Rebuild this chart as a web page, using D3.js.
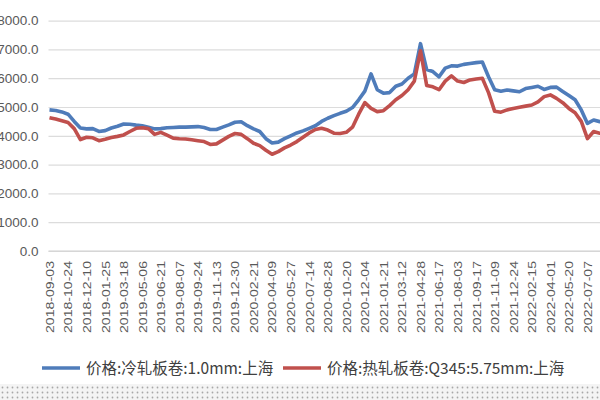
<!DOCTYPE html>
<html>
<head>
<meta charset="utf-8">
<script src="https://cdn.jsdelivr.net/npm/d3@7"></script>
<style>
  body { margin: 0; background: #fff; }
  svg { display: block; font-family: "Liberation Sans", Arial, "Noto Sans CJK SC", sans-serif; }
</style>
</head>
<body>
<svg id="chart" width="600" height="400"></svg>
<script>
// category labels on the x axis (every ~33 trading days)
const dates = [
  "2018-09-03", "2018-10-24", "2018-12-10", "2019-01-25", "2019-03-18", "2019-05-06",
  "2019-06-21", "2019-08-07", "2019-09-24", "2019-11-13", "2019-12-30", "2020-02-21",
  "2020-04-09", "2020-05-27", "2020-07-14", "2020-08-28", "2020-10-20", "2020-12-04",
  "2021-01-21", "2021-03-12", "2021-04-28", "2021-06-17", "2021-08-03", "2021-09-17",
  "2021-11-09", "2021-12-24", "2022-02-15", "2022-04-01", "2022-05-20", "2022-07-07",
  "2022-08-24"
];

// samples, 3 per label interval
const perLabel = 3;

const coldRolled = [
  4900, 4880, 4830, 4750, 4500, 4270, 4240, 4250, 4150, 4180,
  4270, 4330, 4410, 4400, 4370, 4350, 4300, 4240, 4250, 4280,
  4290, 4300, 4300, 4310, 4320, 4290, 4220, 4220, 4300, 4380,
  4470, 4490, 4350, 4240, 4150, 3900, 3750, 3780, 3900, 4000,
  4100, 4170, 4260, 4350, 4500, 4610, 4700, 4780, 4850, 4980,
  5250, 5550, 6150, 5600, 5480, 5500, 5720, 5800, 6000, 6150,
  7200, 6300, 6230, 6050, 6350, 6430, 6420, 6480, 6510, 6540,
  6560, 6050, 5600, 5550, 5590, 5560, 5530, 5640, 5680, 5720,
  5610, 5680, 5690, 5540, 5400, 5250, 4900, 4430, 4550, 4490,
  4480
];

const hotRolled = [
  4630, 4580, 4520, 4460, 4250, 3870, 3950, 3930, 3830, 3880,
  3940, 3980, 4030, 4150, 4260, 4280, 4250, 4050, 4120, 4020,
  3920, 3900, 3890, 3860, 3830, 3800, 3700, 3720, 3850, 3980,
  4080, 4050, 3900, 3740, 3660, 3500, 3360, 3450, 3580, 3680,
  3800, 3950, 4100, 4220, 4260, 4200, 4090, 4080, 4120, 4300,
  4750, 5150, 4950, 4840, 4870, 5050, 5250, 5400, 5600, 5900,
  6950, 5750, 5700, 5600, 5900, 6080, 5900, 5850, 5940, 5970,
  6000, 5500, 4850, 4820, 4900, 4950, 4990, 5030, 5070, 5180,
  5360, 5420, 5300, 5150, 4950, 4800, 4500, 3900, 4150, 4090,
  4100
];

const yTicks = [0, 1000, 2000, 3000, 4000, 5000, 6000, 7000, 8000];

const seriesNames = ["价格:冷轧板卷:1.0mm:上海", "价格:热轧板卷:Q345:5.75mm:上海"];
const seriesColors = ["#4f7cba", "#c0504d"];

const svg = d3.select("#chart");
const width = 600;
const plotLeft = 48.5;
const plotBottom = 251;
const plotTop = 20.6;

// the plot runs past the right edge of the picture, like the cropped original
const x = d3.scaleLinear()
  .domain([0, dates.length - 1])
  .range([plotLeft + 1, plotLeft + 1 + 18.55 * (dates.length - 1)]);

const y = d3.scaleLinear()
  .domain([0, 8000])
  .range([plotBottom, plotTop]);

// dotted strip along the bottom
const defs = svg.append("defs");
const pat = defs.append("pattern")
  .attr("id", "dots")
  .attr("width", 5)
  .attr("height", 5)
  .attr("patternUnits", "userSpaceOnUse");
pat.append("rect").attr("width", 5).attr("height", 5).attr("fill", "#f4f4f4");
pat.append("circle").attr("cx", 2.5).attr("cy", 2.5).attr("r", 0.9).attr("fill", "#a8a8a8");
svg.append("rect")
  .attr("x", 0).attr("y", 384)
  .attr("width", width).attr("height", 16)
  .attr("fill", "url(#dots)");

// y axis with gridlines
const yAxis = svg.append("g")
  .attr("transform", "translate(" + plotLeft + ",0)")
  .call(d3.axisLeft(y)
    .tickValues(yTicks)
    .tickFormat(d3.format(".1f"))
    .tickSize(-(width - plotLeft))
    .tickPadding(10));
yAxis.select(".domain").remove();
yAxis.selectAll(".tick line")
  .attr("stroke", "#dcdcdc")
  .attr("stroke-width", 1.2);
yAxis.selectAll(".tick text")
  .attr("fill", "#595959")
  .style("font-size", "13.5px");

// x axis, labels turned upright
const xAxis = svg.append("g")
  .attr("transform", "translate(0," + plotBottom + ")")
  .call(d3.axisBottom(x)
    .tickValues(d3.range(dates.length))
    .tickFormat(function(i) { return dates[i]; })
    .tickSize(0));
xAxis.select(".domain")
  .attr("d", "M" + plotLeft + ",0H" + width)
  .attr("stroke", "#d0d0d0")
  .attr("stroke-width", 1.2);
xAxis.selectAll(".tick text")
  .attr("fill", "#595959")
  .style("font-size", "11px")
  .attr("text-anchor", "end")
  .attr("transform", "rotate(-90)")
  .attr("x", -10)
  .attr("y", 0)
  .attr("dy", "0.35em")
  .attr("textLength", 72)
  .attr("lengthAdjust", "spacingAndGlyphs");

// the two price lines
const line = d3.line()
  .x(function(d, k) { return x(k / perLabel); })
  .y(function(d) { return y(d); });

[coldRolled, hotRolled].forEach(function(values, s) {
  svg.append("path")
    .datum(values)
    .attr("d", line)
    .attr("fill", "none")
    .attr("stroke", seriesColors[s])
    .attr("stroke-width", 3.6)
    .attr("stroke-linejoin", "round");
});

// legend
const legendX = [42, 283];
const legend = svg.selectAll(".legend")
  .data(seriesNames)
  .enter()
  .append("g")
  .attr("transform", function(d, i) { return "translate(" + legendX[i] + ",368)"; });
legend.append("line")
  .attr("x1", 0).attr("x2", 38)
  .attr("stroke", function(d, i) { return seriesColors[i]; })
  .attr("stroke-width", 3.6);
legend.append("text")
  .attr("x", 44)
  .attr("dy", "0.36em")
  .attr("fill", "#404040")
  .style("font-size", "15.5px")
  .style("font-family", "'Noto Sans CJK SC', 'Liberation Sans', sans-serif")
  .text(function(d) { return d; });
</script>
</body>
</html>
